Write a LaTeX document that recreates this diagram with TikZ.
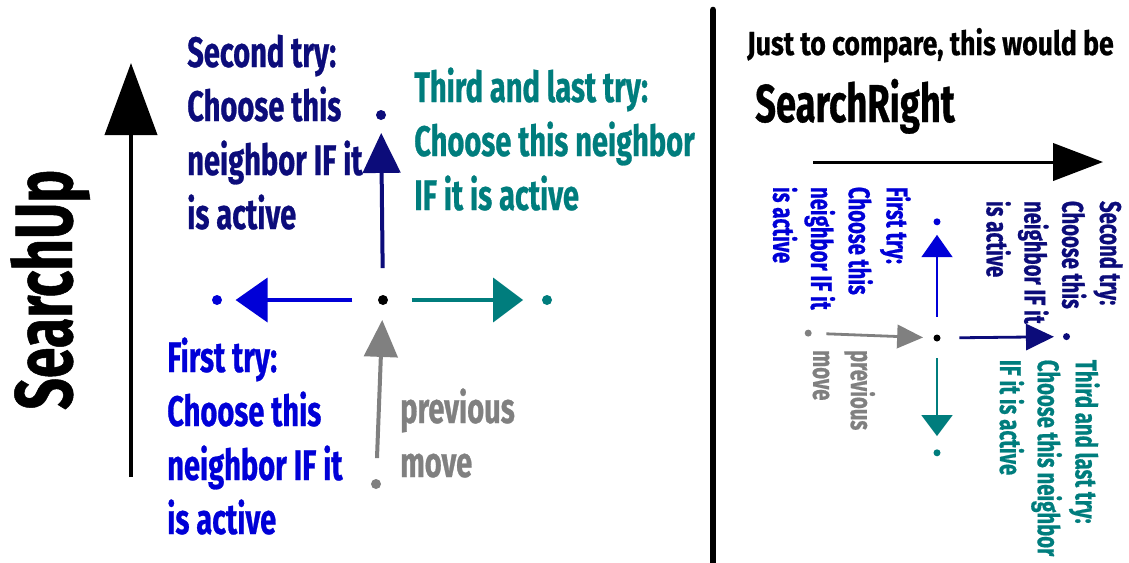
\documentclass[tikz,border=0pt]{standalone}
\usepackage{fontspec}
\usetikzlibrary{arrows.meta}
\newfontfamily\agfont[FakeStretch=0.68, FakeBold=0.6]{Fira Sans}
\newfontfamily\agwide[FakeStretch=0.8, FakeBold=0.6]{Fira Sans}
\definecolor{blueA}{RGB}{0,0,215}
\definecolor{navyA}{RGB}{12,12,122}
\definecolor{tealA}{RGB}{0,125,125}
\definecolor{grayA}{RGB}{128,128,128}
\tikzset{
  crossdot/.style={circle, inner sep=0pt, minimum size=7.5pt},
  shaft/.style={line width=3pt},
  % labels are placed by the baseline of their last line
  lbl/.style={font=\agfont\bfseries\fontsize{32}{40.5}\selectfont, align=left, anchor=base west, inner sep=0pt},
  % the search cross: current cell, its neighbours and the order they are tried in
  searchcross/.pic={
    \node[crossdot, fill=black] (-c) at (0,0) {};
    \node[crossdot, fill=blueA] (-l) at (-166,0) {};
    \node[crossdot, fill=navyA] (-u) at (-2,-185) {};
    \node[crossdot, fill=tealA] (-r) at (164,0) {};
    \node[crossdot, fill=grayA] (-g) at (-7,184) {};
    \draw[shaft, blueA, -{Triangle[length=24pt,width=33pt]}, shorten <=19pt, shorten >=10pt] (-c) -- (-l);
    \draw[shaft, navyA, -{Triangle[length=30pt,width=28pt]}, shorten <=20pt, shorten >=9.5pt] (-c) -- (-u);
    \draw[shaft, tealA, -{Triangle[length=22.5pt,width=33pt]}, shorten <=17.75pt, shorten >=14pt] (-c) -- (-r);
    \draw[shaft, grayA, -{Triangle[length=27.75pt,width=25pt]}, shorten <=15.5pt, shorten >=11pt] (-g) -- (-c);
    \node[lbl, text=navyA] (-second) at (-196,-71) {Second try:\\Choose this\\neighbor IF it\\is active};
    \node[lbl, text=tealA] (-third) at (31,-90) {Third and last try:\\Choose this neighbor\\IF it is active};
    \node[lbl, text=blueA] (-first) at (-216,234) {First try:\\Choose this\\neighbor IF it\\is active};
    \node[lbl, text=grayA] (-prev) at (17,177) {previous\\move};
  }
}
\begin{document}
\begin{tikzpicture}[x=0.75pt, y=-0.75pt]
  \fill[white] (0,0) rectangle (1129,562);
  \useasboundingbox (0,0) rectangle (1129,562);

  % left half: SearchUp
  \coordinate (upbot) at (131,477);
  \coordinate (uptop) at (131,63);
  \draw[line width=3pt, -{Triangle[length=54pt,width=39pt]}] (upbot) -- (uptop);
  \node[font=\agfont\bfseries\fontsize{61}{70}\selectfont, rotate=90, anchor=base west, inner sep=0pt] (searchup) at (72,410) {SearchUp};
  \pic (L) at (383,300) {searchcross};

  % divider
  \coordinate (divtop) at (713,10);
  \coordinate (divbot) at (713,570);
  \draw[line width=5pt, line cap=round] (divtop) -- (divbot);

  % right half: SearchRight, the same cross turned a quarter clockwise
  \node[font=\agwide\bfseries\fontsize{25}{30}\selectfont, anchor=base west, inner sep=0pt] (compare) at (747,55) {Just to compare, this would be};
  \node[font=\agfont\bfseries\fontsize{40}{48}\selectfont, anchor=base west, inner sep=0pt] (searchright) at (755,122) {SearchRight};
  \coordinate (rtleft) at (813,162);
  \coordinate (rtright) at (1103,162);
  \draw[line width=2.25pt, -{Triangle[length=37.5pt,width=28pt]}] (rtleft) -- (rtright);
  \begin{scope}[transform canvas={shift={(937,338)}, rotate=-90, scale=0.7}]
    \pic (R) at (0,0) {searchcross};
  \end{scope}
\end{tikzpicture}
\end{document}
